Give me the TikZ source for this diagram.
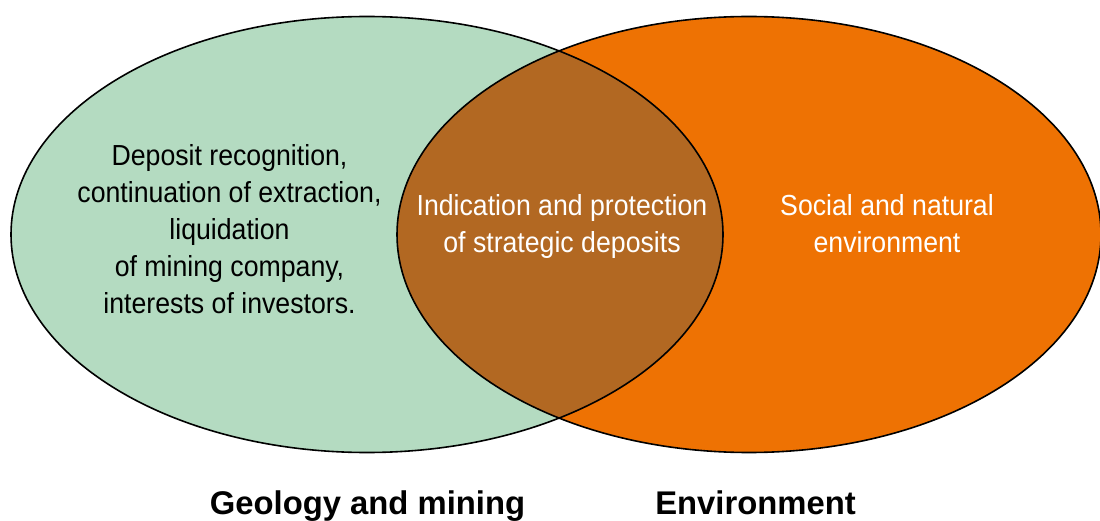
\documentclass[tikz,border=0pt]{standalone}
\usepackage{fontspec}
\setmainfont{Liberation Sans}
\newfontfamily\narrowfont[FakeStretch=0.92]{Liberation Sans}
\definecolor{geogreen}{RGB}{180,219,193}
\definecolor{envorange}{RGB}{238,114,3}
\definecolor{overlapbrown}{RGB}{178,104,34}
\tikzset{
  setline/.style={draw=black, line width=1.6pt},
  bodytext/.style={font=\narrowfont\fontsize{29}{37}\selectfont, align=center, inner sep=0pt},
  titletext/.style={font=\bfseries\fontsize{32.8}{38}\selectfont, inner sep=0pt, anchor=base}
}
\begin{document}
\begin{tikzpicture}[x=1pt,y=-1pt]
\useasboundingbox[fill=white] (0,0) rectangle (1100,521);
% fills
\fill[geogreen] (367,234.5) ellipse [x radius=356, y radius=218];
\fill[envorange] (749,234.5) ellipse [x radius=352, y radius=218];
\begin{scope}
  \clip (367,234.5) ellipse [x radius=356, y radius=218];
  \fill[overlapbrown] (749,234.5) ellipse [x radius=352, y radius=218];
\end{scope}
% outlines
\draw[setline] (367,234.5) ellipse [x radius=356, y radius=218];
\draw[setline] (749,234.5) ellipse [x radius=352, y radius=218];
% texts
\node[bodytext, text=black] (geotext) at (229.5,229.5) {Deposit recognition,\\continuation of extraction,\\liquidation\\of mining company,\\interests of investors.};
\node[bodytext, text=white] (overlaptext) at (562,227) {Indication and protection\\of strategic deposits};
\node[bodytext, text=white] (envtext) at (887,224) {Social and natural\\environment};
\node[titletext] (geotitle) at (367.5,514) {Geology and mining};
\node[titletext] (envtitle) at (755.5,514) {Environment};
\end{tikzpicture}
\end{document}
